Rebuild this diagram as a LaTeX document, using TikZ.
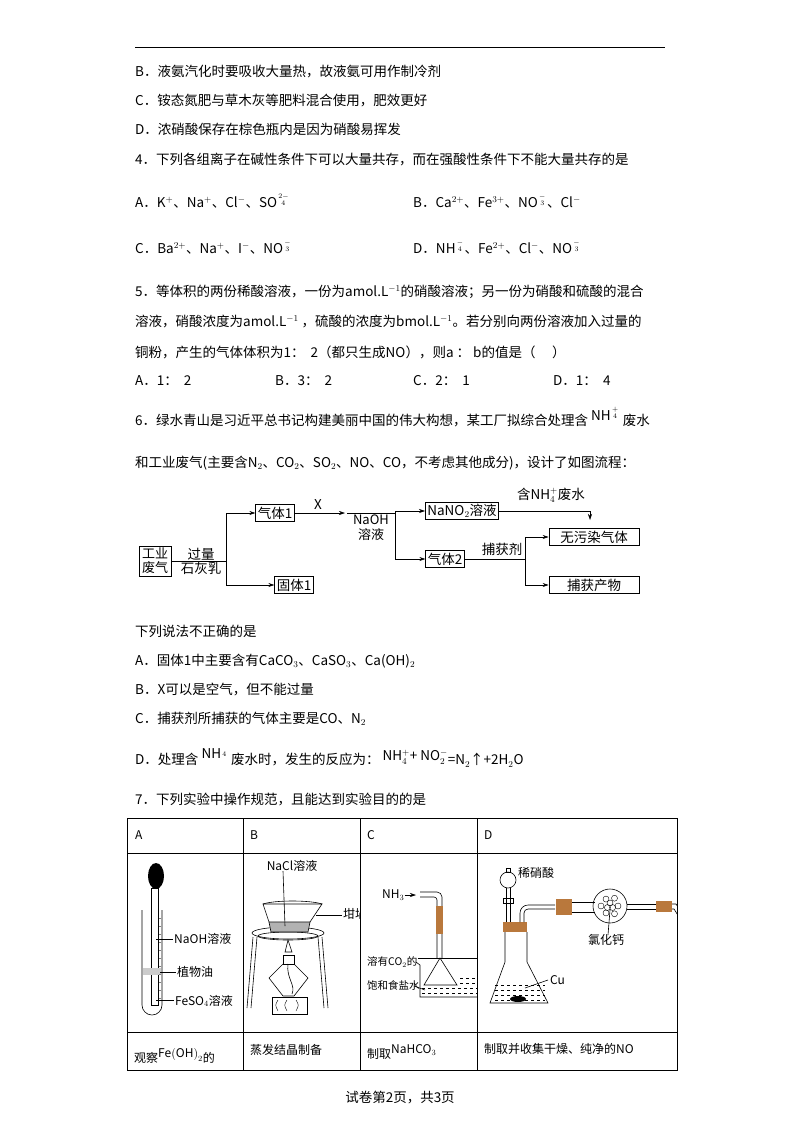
\documentclass[tikz,border=0pt]{standalone}
\usepackage{amsmath}
\usepackage{fontspec}
\setmainfont{Noto Sans CJK SC}
\usetikzlibrary{arrows.meta,calc}
\definecolor{brn}{RGB}{185,120,60}
\newcommand\fs{\fontsize{13.5}{15}\selectfont}
\newcommand\st[2]{$^{\genfrac{}{}{0pt}{}{\scriptscriptstyle #1}{\scriptscriptstyle #2}}$}
\tikzset{txt/.style={anchor=west,inner sep=0pt,font=\fs},
 bx/.style={draw,line width=0.7pt,inner sep=2pt,font=\fs},
 ar/.style={-{Stealth[length=6pt,width=4pt]},line width=0.6pt},
 ln/.style={line width=0.6pt},
 lab/.style={anchor=west,inner sep=0pt,font=\fontsize{12}{13}\selectfont}}
\begin{document}
\begin{tikzpicture}[x=1pt,y=-1pt]
\useasboundingbox (0,0) rectangle (800,1132);
\draw[line width=1pt] (135,48) -- (665,48);
\node[txt] (l1) at (135,72) {B．液氨汽化时要吸收大量热，故液氨可用作制冷剂};
\node[txt] (l2) at (135,101) {C．铵态氮肥与草木灰等肥料混合使用，肥效更好};
\node[txt] (l3) at (135,129) {D．浓硝酸保存在棕色瓶内是因为硝酸易挥发};
\node[txt] (l4) at (135,159) {4．下列各组离子在碱性条件下可以大量共存，而在强酸性条件下不能大量共存的是};
\node[txt] (o4a) at (135,201) {A．K$^{+}$、Na$^{+}$、Cl$^{-}$、SO\st{2-}{4}};
\node[txt] (o4b) at (413,201) {B．Ca$^{2+}$、Fe$^{3+}$、NO\st{-}{3}、Cl$^{-}$};
\node[txt] (o4c) at (135,247) {C．Ba$^{2+}$、Na$^{+}$、I$^{-}$、NO\st{-}{3}};
\node[txt] (o4d) at (413,247) {D．NH\st{-}{4}、Fe$^{2+}$、Cl$^{-}$、NO\st{-}{3}};
\node[txt] (l5a) at (135,292) {5．等体积的两份稀酸溶液，一份为amol.L$^{-1}$的硝酸溶液；另一份为硝酸和硫酸的混合};
\node[txt] (l5b) at (135,322) {溶液，硝酸浓度为amol.L$^{-1}$ ，硫酸的浓度为bmol.L$^{-1}$。若分别向两份溶液加入过量的};
\node[txt] (l5c) at (135,352) {铜粉，产生的气体体积为1：\ \ 2（都只生成NO），则a ：\ b的值是（\quad\ ）};
\node[txt] (o5a) at (135,381) {A．1：\ \ 2};
\node[txt] (o5b) at (275,381) {B．3：\ \ 2};
\node[txt] (o5c) at (413,381) {C．2：\ \ 1};
\node[txt] (o5d) at (553,381) {D．1：\ \ 4};
\node[txt] (l6a) at (135,417) {6．绿水青山是习近平总书记构建美丽中国的伟大构想，某工厂拟综合处理含 \raisebox{5pt}{NH\st{+}{4}} 废水};
\node[txt] (l6b) at (135,463) {和工业废气(主要含N$_2$、CO$_2$、SO$_2$、NO、CO，不考虑其他成分)，设计了如图流程：};
% flowchart
\node[bx,text width=28pt,align=center,font=\fontsize{13}{14}\selectfont] (gy) at (155,561) {工业\\废气};
\node[bx] (q1) at (275,513) {气体1};
\node[bx] (g1) at (294,585) {固体1};
\node[inner sep=0pt,align=center,font=\fontsize{13}{15}\selectfont] (naoh) at (371,528) {NaOH\\溶液};
\node[bx] (nano) at (462,511) {NaNO$_2$溶液};
\node[bx] (q2) at (445,559) {气体2};
\node[bx,minimum width=90pt] (wu) at (594,537) {无污染气体};
\node[bx,minimum width=90pt] (bh) at (594,585) {捕获产物};
\coordinate (s1) at (226,561);
\draw[ln] (gy.east) -- (s1);
\node[font=\fs,inner sep=1pt,above] at (201,561) {过量};
\node[font=\fs,inner sep=1pt,below] at (201,561) {石灰乳};
\draw[ar] (s1) |- (q1.west);
\draw[ar] (s1) |- (g1.west);
\draw[ar] (q1.east) -- (345,513);
\node[font=\fs,above] at (318,513) {X};
\coordinate (s2) at (395,513);
\draw[ln] (347,513) -- (s2);
\draw[ar] (s2) |- (nano.west);
\draw[ar] (s2) |- (q2.west);
\draw[ar] (nano.east) -| (590,520);
\node[font=\fs,inner sep=0pt] at (551,495) {含NH$_4^+$废水};
\coordinate (s3) at (525,559);
\draw[ln] (q2.east) -- (s3);
\node[font=\fs,above] at (502,559) {捕获剂};
\draw[ar] (s3) |- (wu.west);
\draw[ar] (s3) |- (bh.west);
% questions
\node[txt] (l6c) at (135,631) {下列说法不正确的是};
\node[txt] (o6a) at (135,661) {A．固体1中主要含有CaCO$_3$、CaSO$_3$、Ca(OH)$_2$};
\node[txt] (o6b) at (135,690) {B．X可以是空气，但不能过量};
\node[txt] (o6c) at (135,719) {C．捕获剂所捕获的气体主要是CO、N$_2$};
\node[txt] (o6d) at (135,758) {D．处理含 \raisebox{6pt}{NH\st{}{4}} 废水时，发生的反应为：\ \raisebox{4pt}{NH$_4^+$+ NO$_2^-$}=N$_2$↑+2H$_2$O};
\node[txt] (l7) at (135,799) {7．下列实验中操作规范，且能达到实验目的的是};
% table
\draw[line width=0.8pt] (127,818) rectangle (677,1070);
\draw[line width=0.8pt] (127,853) -- (677,853) (127,1032) -- (677,1032);
\foreach \x in {243,360,477} \draw[line width=0.8pt] (\x,818) -- (\x,1070);
\node[lab] at (135,835) {A};
\node[lab] at (250,835) {B};
\node[lab] at (367,835) {C};
\node[lab] at (484,835) {D};
\node[lab] at (134,1056) {观察\raisebox{5pt}{Fe$\left(\mathrm{OH}\right)_2$}的};
\node[lab] at (250,1050) {蒸发结晶制备};
\node[lab] at (367,1052) {制取\raisebox{5pt}{NaHCO$_3$}};
\node[lab] at (484,1049) {制取并收集干燥、纯净的NO};
% A apparatus
\fill (156,876) ellipse (8 and 13);
\draw[ln] (151,888) rectangle (158,1005);
\draw[ln] (142,910) -- (142,1005) arc (180:0:10) -- (162,910);
\fill[gray!40] (143,968) rectangle (161,975);
\foreach \y in {918,926,...,1000} \draw[line width=0.3pt,gray] (159,\y) -- (161,\y);
\draw[ln] (156,939) -- (173,939);
\node[lab] at (174,939) {NaOH溶液};
\draw[ln] (160,972) -- (176,972);
\node[lab] at (177,972) {植物油};
\draw[ln] (156,1000) -- (174,1000);
\node[lab] at (175,1001) {FeSO$_4$溶液};
% B apparatus
\draw[ln] (288,933) ellipse (36 and 6);
\draw[ln] (288,936) ellipse (30 and 4);
\fill[gray!60] (269,922) -- (310,922) -- (308,932) -- (271,932) -- cycle;
\draw[ln,fill=white] (263,904) -- (322,904) -- (310,922) -- (269,922) -- cycle;
\draw[ln] (269,922) -- (271,932) -- (308,932) -- (310,922);
\draw[ln] (263,904) .. controls (275,900) and (310,900) .. (322,904);
\draw[ln] (253,937) -- (247,1008) (257,937) -- (251,1008);
\draw[ln] (322,937) -- (328,1008) (318,937) -- (324,1008);
\draw[ln] (283,871) -- (285,926);
\node[font=\fontsize{12}{13}\selectfont] at (292,866) {NaCl溶液};
\draw[ln] (316,915) -- (342,915);
\begin{scope}\clip (243,853) rectangle (360,1032);
\node[lab] at (343,914) {坩埚};\end{scope}
\draw[ln] (288,940) -- (285,952) -- (292,952) -- cycle;
\draw[ln] (283,955) rectangle (294,964);
\draw[ln] (283,964) -- (269,978) -- (283,996) -- (294,996) -- (308,978) -- (294,964);
\draw[ln] (288,964) .. controls (286,978) and (296,985) .. (292,994);
\draw[ln] (272,997) rectangle (307,1014);
\draw[line width=0.4pt] (278,1000) .. controls (275,1005) .. (278,1011) (287,1000) .. controls (284,1005) .. (287,1011) (296,1000) .. controls (299,1005) .. (296,1011);
% C apparatus
\node[lab] (nh3) at (382,895) {NH$_3$};
\draw[ar] (nh3.east) -- (416,895);
\draw[ln] (420,892) -- (437,892) arc (270:360:5) -- (442,958);
\draw[ln] (420,897) -- (434,897) arc (270:360:3) -- (437,958);
\fill[brn] (436,906) rectangle (443,934);
\begin{scope}\clip (360,853) rectangle (477,1032);
\draw[ln] (416,962) -- (420,965) -- (420,997) -- (485,997) -- (485,962);
\draw[ln] (418,958) -- (480,958);
\draw[ln] (440,958) -- (424,985) -- (457,985) -- cycle;
\foreach \y in {988,993} \draw[line width=0.4pt,dashed] (422,\y) -- (480,\y);
\foreach \y in {978,983} \draw[line width=0.4pt,dashed] (460,\y) -- (480,\y);
\end{scope}
\node[lab,font=\fontsize{10.5}{12}\selectfont] at (367,962) {溶有CO$_2$的};
\node[lab,font=\fontsize{10.5}{12}\selectfont] at (367,985) {饱和食盐水};
\draw[ln] (414,986) -- (425,990);
% D apparatus
\draw[ln] (508,880) circle (8);
\draw[ln] (506,872) rectangle (510,868);
\draw[ln] (506,888) -- (506,925) (510,888) -- (510,925);
\draw[ln] (503,898) rectangle (513,903);
\fill[brn] (503,922) rectangle (527,932);
\draw[ln] (520,922) -- (520,913) arc (180:270:8) -- (555,905);
\draw[ln] (524,922) -- (524,913) arc (180:270:4) -- (555,909);
\draw[ln] (505,932) -- (505,962) -- (490,1003) -- (548,1003) -- (527,962) -- (527,932);
\foreach \y in {985,990,995,1000} \draw[line width=0.4pt,dashed] (495,\y) -- (545,\y);
\fill (518,999) ellipse (8 and 3);
\draw[ln] (525,988) -- (548,980);
\node[lab] at (550,980) {Cu};
\fill[brn] (556,899) rectangle (572,915);
\draw[ln] (572,902) -- (595,902) (572,912) -- (595,912);
\draw[ln] (610,906) circle (17);
\foreach \a/\r in {0/8,60/9,120/8,180/9,240/8,300/9,30/3,150/3,270/3}
  \draw[line width=0.4pt] ($(610,906)+(\a:\r)$) circle (3);
\draw[ln] (627,904) -- (660,904) (627,909) -- (660,909);
\fill[brn] (656,901) rectangle (672,912);
\begin{scope}\clip (477,853) rectangle (677,1032);
\draw[ln] (672,904) -- (676,904) -- (690,925) (672,909) -- (674,909) -- (686,928);
\end{scope}
\node[lab] at (518,873) {稀硝酸};
\draw[ln] (610,910) -- (608,935);
\node[lab] at (588,940) {氯化钙};
% footer
\node[font=\fs] at (400,1098) {试卷第2页，共3页};
\end{tikzpicture}
\end{document}
